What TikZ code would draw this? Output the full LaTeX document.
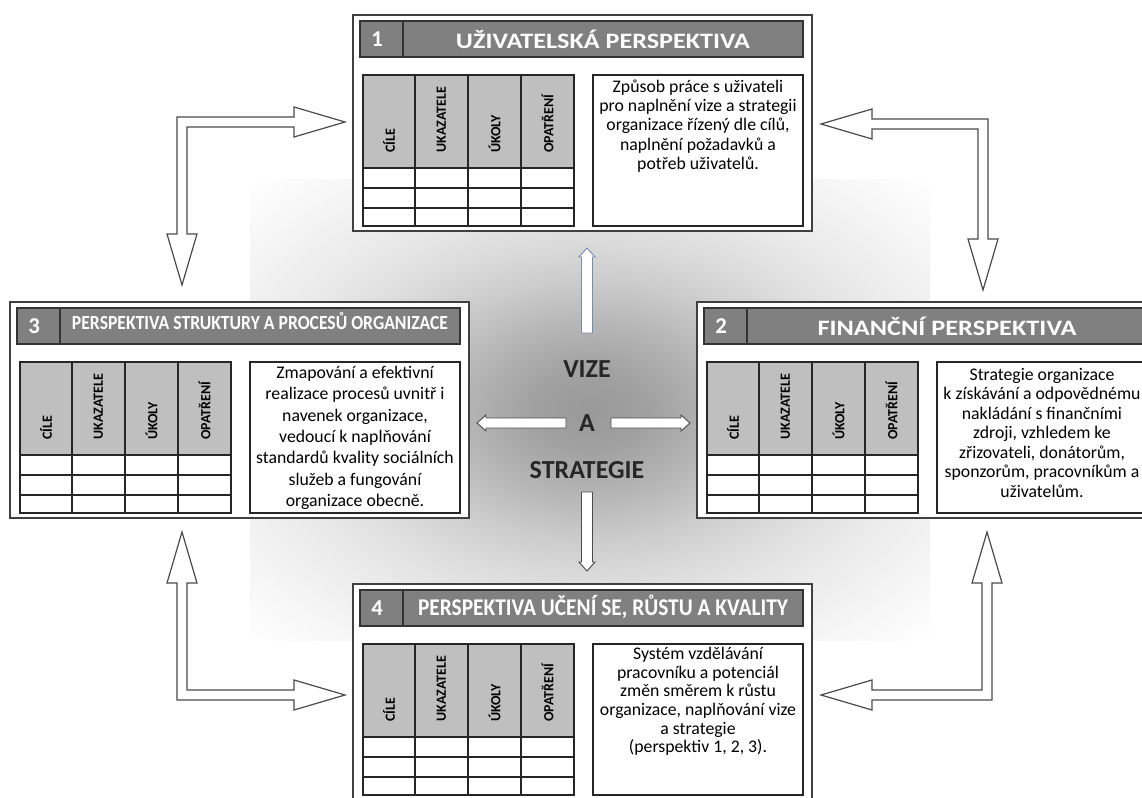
\documentclass[tikz,border=0pt]{standalone}
\usepackage{fontspec}
\setmainfont{Carlito}
\usepackage{graphicx}
\newdimen\pxu \pxu=0.75pt
\definecolor{boxline}{HTML}{404040}
\definecolor{headfill}{HTML}{808080}
\definecolor{cellgray}{HTML}{BFBFBF}
\definecolor{arrowline}{HTML}{4A4A4A}
\definecolor{bluegray}{HTML}{7A8CA8}
\definecolor{centertext}{HTML}{262626}
\pgfdeclareradialshading{visionshade}{\pgfpoint{0bp}{0bp}}{color(0bp)=(black!40); color(6bp)=(black!37); color(13bp)=(black!29); color(20bp)=(black!20); color(27bp)=(black!13); color(34bp)=(black!8); color(42bp)=(black!4); color(50bp)=(white)}
\tikzset{
  outerbox/.style={draw=boxline, line width=1.2pt, fill=white},
  headbar/.style={draw=black!80, line width=1pt, fill=headfill},
  tableline/.style={draw=black!85, line width=1pt},
  cellfill/.style={fill=cellgray},
  numtext/.style={text=white, font=\bfseries\fontsize{17}{20}\selectfont, inner sep=0pt},
  titletext/.style={text=white, font=\bfseries\fontsize{16.5}{19}\selectfont, inner sep=0pt},
  collabel/.style={rotate=90, anchor=west, inner sep=0pt, font=\bfseries\fontsize{10.5}{12}\selectfont},
  desc/.style={align=center, inner sep=0pt, text=black},
  blockarrow/.style={draw=arrowline, line width=0.9pt, fill=white, line join=miter},
  smallarrow/.style={draw=arrowline, line width=0.7pt, fill=white, line join=miter},
  centerlabel/.style={text=centertext, font=\bfseries\fontsize{19.5}{22}\selectfont, inner sep=0pt}
}
\newcommand\PerspBox[9]{%
\begin{scope}[shift={(#2,#3)}]
  \draw[outerbox] (0,0) rectangle (459,216);
  \draw[headbar] (7,6) rectangle (450,42);
  \draw[headbar] (50,6) -- (50,42);
  \node[numtext] (#1num) at (24,24) {#4};
  \node[titletext] (#1title) at (250,#9) {#5};
  \fill[cellfill] (10,60) rectangle (221,153);
  \draw[tableline] (10,60) rectangle (221,211)
    (10,153) -- (221,153) (10,173) -- (221,173) (10,193) -- (221,193)
    (62,60) -- (62,211) (115,60) -- (115,211) (168,60) -- (168,211);
  \node[collabel] (#1c1) at (36,138) {CÍLE};
  \node[collabel] (#1c2) at (88.5,138) {UKAZATELE};
  \node[collabel] (#1c3) at (141.5,138) {ÚKOLY};
  \node[collabel] (#1c4) at (194.5,138) {OPATŘENÍ};
  \draw[tableline, fill=white] (240,60) rectangle (450,211);
  \node[desc, anchor=north, font=\fontsize{13.3}{#8}\selectfont] (#1desc) at (345,#7) {#6};
\end{scope}}
\begin{document}
\begin{tikzpicture}[x=0.75pt, y=-0.75pt]
\useasboundingbox (0,0) rectangle (1142,798);
\begin{scope}
\clip (0,0) rectangle (1142,798);
\fill[white] (0,0) rectangle (1142,798);
% central shaded field
\begin{scope}
\clip (250,180) rectangle (930,640);
\node[inner sep=0pt, outer sep=0pt] (field) at (590,410) {\resizebox{962\pxu}{650\pxu}{\pgfuseshading{visionshade}}};
\end{scope}

% corner block arrows
\draw[blockarrow] (345,122) -- (294,107) -- (294,117) -- (177,117) -- (177,234) -- (167,234) -- (182,285) -- (197,234) -- (187,234) -- (187,127) -- (294,127) -- (294,137) -- cycle;
\draw[blockarrow] (821,124) -- (872,109) -- (872,119) -- (988,119) -- (988,239) -- (998,239) -- (983,290) -- (968,239) -- (978,239) -- (978,129) -- (872,129) -- (872,139) -- cycle;
\draw[blockarrow] (182,532) -- (197,583) -- (187,583) -- (187,690) -- (294,690) -- (294,680) -- (345,695) -- (294,710) -- (294,700) -- (177,700) -- (177,583) -- (167,583) -- cycle;
\draw[blockarrow] (987,532) -- (1002,583) -- (992,583) -- (992,700) -- (872,700) -- (872,710) -- (821,695) -- (872,680) -- (872,690) -- (982,690) -- (982,583) -- (972,583) -- cycle;

% boxes
\PerspBox{p1}{353}{15}{1}{\resizebox{294\pxu}{\height}{UŽIVATELSKÁ PERSPEKTIVA}}{Způsob práce s uživateli\\pro naplnění vize a strategii\\organizace řízený dle cílů,\\naplnění požadavků a\\potřeb uživatelů.}{65}{14.3}{24}
\PerspBox{p3}{10}{302}{3}{\fontsize{15}{18}\selectfont\resizebox{376\pxu}{\height}{PERSPEKTIVA STRUKTURY A PROCESŮ ORGANIZACE}}{Zmapování a efektivní\\realizace procesů uvnitř i\\navenek organizace,\\vedoucí k naplňování\\standardů kvality sociálních\\služeb a fungování\\organizace obecně.}{64}{16}{19}
\PerspBox{p2}{697}{302}{2}{\resizebox{259\pxu}{\height}{FINANČNÍ PERSPEKTIVA}}{Strategie organizace\\k získávání a odpovědnému\\nakládání s finančními\\zdroji, vzhledem ke\\zřizovateli, donátorům,\\sponzorům, pracovníkům a\\uživatelům.}{66}{14.6}{24}
\PerspBox{p4}{353}{584}{4}{\fontsize{18}{21}\selectfont\resizebox{370\pxu}{\height}{PERSPEKTIVA UČENÍ SE, RŮSTU A KVALITY}}{Systém vzdělávání\\pracovníku a potenciál\\změn směrem k růstu\\organizace, naplňování vize\\a strategie\\(perspektiv 1, 2, 3).}{63}{14}{23}

% centre
\node[centerlabel] (vize) at (587,369) {VIZE};
\node[centerlabel] (a) at (587,423) {A};
\node[centerlabel] (strat) at (587,470) {STRATEGIE};
\draw[smallarrow, draw=bluegray] (587,248) -- (595,257) -- (592.5,257) -- (592.5,333) -- (581.5,333) -- (581.5,257) -- (579,257) -- cycle;
\draw[smallarrow] (587,571) -- (595,562) -- (592.5,562) -- (592.5,492) -- (581.5,492) -- (581.5,562) -- (579,562) -- cycle;
\draw[smallarrow] (477,423) -- (486,415) -- (486,418) -- (566,418) -- (566,428) -- (486,428) -- (486,431) -- cycle;
\draw[smallarrow] (690,423) -- (681,415) -- (681,418) -- (611,418) -- (611,428) -- (681,428) -- (681,431) -- cycle;
\end{scope}
\end{tikzpicture}
\end{document}
